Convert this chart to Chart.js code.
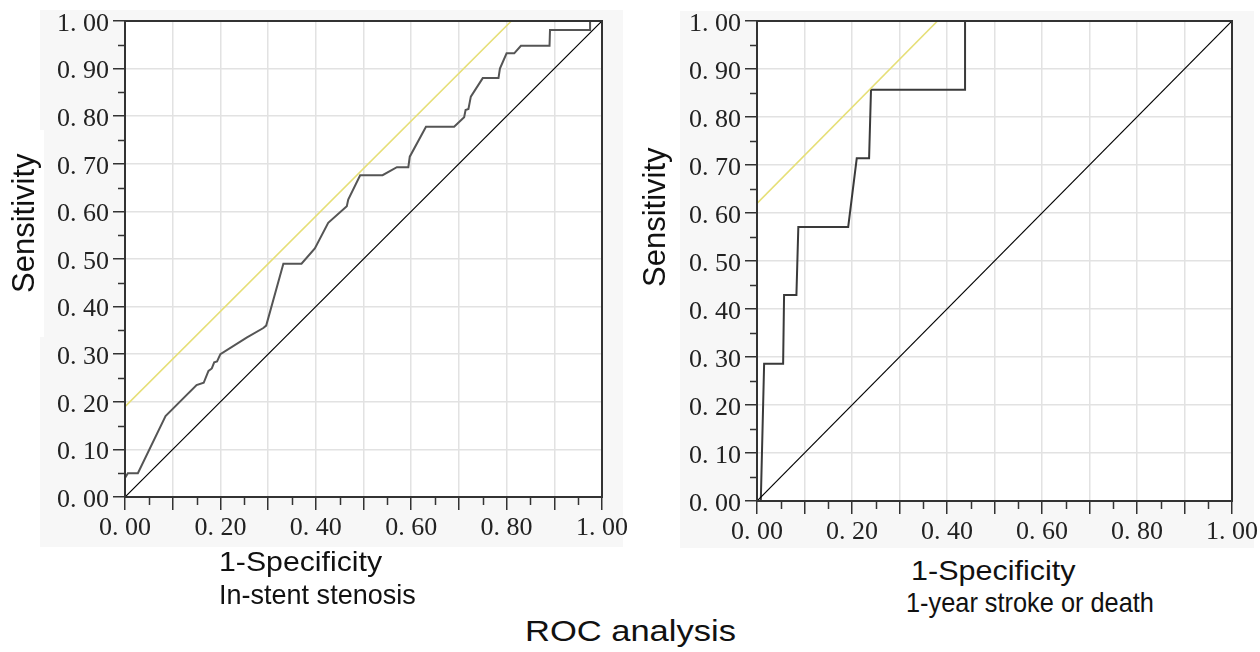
<!DOCTYPE html>
<html>
<head>
<meta charset="utf-8">
<script src="https://cdn.jsdelivr.net/npm/chart.js@4/dist/chart.umd.min.js"></script>
<style>
  body { margin: 0; width: 1260px; height: 652px; position: relative; overflow: hidden; background: #fff;
         font-family: "Liberation Sans", Arial, sans-serif; color: #111; }
  .panel { position: absolute; background: #f7f7f7; }
  canvas { position: absolute; }
  .lbl { position: absolute; white-space: nowrap; font-size: 28px; line-height: 28px; transform-origin: left top; }
  .ylab { position: absolute; white-space: nowrap; font-size: 31px; line-height: 31px;
          transform: rotate(-90deg); transform-origin: left top; }
</style>
</head>
<body>
<div class="panel" style="left:40px;top:10px;width:583px;height:537px"></div>
<div class="panel" style="left:680px;top:11px;width:574px;height:537px"></div>
<div style="position:absolute;left:40px;top:130px;width:4px;height:207px;background:#fff"></div>

<canvas id="leftChart" width="600" height="537" style="left:40px;top:10px"></canvas>
<canvas id="rightChart" width="580" height="537" style="left:680px;top:11px"></canvas>

<div class="ylab" style="left:8px;top:293px">Sensitivity</div>
<div class="ylab" style="left:639px;top:287px">Sensitivity</div>

<div class="lbl" style="left:219px;top:548px;transform:scaleX(1.08)">1-Specificity</div>
<div class="lbl" style="left:219px;top:581px;transform:scaleX(0.965)">In-stent stenosis</div>
<div class="lbl" style="left:911px;top:557px;transform:scaleX(1.09)">1-Specificity</div>
<div class="lbl" style="left:906px;top:589px;transform:scaleX(0.905)">1-year stroke or death</div>
<div class="lbl" style="left:525px;top:616px;font-size:30px;line-height:30px;transform:scaleX(1.15)">ROC analysis</div>

<script>
// ROC curve, in-stent stenosis (1-specificity / sensitivity)
const leftFpr = [0, 0.006, 0.027, 0.085, 0.15, 0.165, 0.175, 0.182, 0.187, 0.193, 0.2, 0.255, 0.29, 0.296,
  0.332, 0.37, 0.398, 0.426, 0.465, 0.468, 0.493, 0.54, 0.57, 0.594, 0.597, 0.631, 0.69, 0.711, 0.714,
  0.72, 0.725, 0.75, 0.783, 0.786, 0.8, 0.816, 0.83, 0.89, 0.891, 0.975, 0.975];
const leftTpr = [0.04, 0.05, 0.05, 0.17, 0.235, 0.24, 0.265, 0.27, 0.283, 0.285, 0.3, 0.335, 0.355, 0.36,
  0.49, 0.49, 0.522, 0.576, 0.611, 0.625, 0.676, 0.676, 0.693, 0.693, 0.715, 0.778, 0.778, 0.798, 0.813,
  0.815, 0.841, 0.88, 0.88, 0.9, 0.932, 0.932, 0.948, 0.948, 0.981, 0.981, 1.0];

// ROC curve, 1-year stroke or death
const rightFpr = [0.008, 0.015, 0.055, 0.057, 0.083, 0.087, 0.192, 0.21, 0.236, 0.24, 0.438, 0.438, 1.0];
const rightTpr = [0, 0.286, 0.286, 0.429, 0.429, 0.571, 0.571, 0.714, 0.714, 0.857, 0.857, 1.0, 1.0];

// chance line and the yellow tangent lines
const refX = [0, 1];
const refY = [0, 1];
const leftCutX = [0, 0.81];
const leftCutY = [0.19, 1.0];
const rightCutX = [0, 0.38];
const rightCutY = [0.62, 1.0];

// tick labels (index = tick number, step 0.1)
const yTickLabels = ['0. 00', '0. 10', '0. 20', '0. 30', '0. 40', '0. 50', '0. 60', '0. 70', '0. 80', '0. 90', '1. 00'];
const xTickLabels = ['0. 00', '', '0. 20', '', '0. 40', '', '0. 60', '', '0. 80', '', '1. 00'];
const minorTicks = [0.05, 0.15, 0.25, 0.35, 0.45, 0.55, 0.65, 0.75, 0.85, 0.95];

function pts(xs, ys) {
  return xs.map((x, i) => ({ x: x, y: ys[i] }));
}

// white plot area, dark frame and the short minor tick marks
const framePlugin = {
  id: 'frame',
  beforeDraw(chart) {
    const { ctx, chartArea: a } = chart;
    ctx.save();
    ctx.fillStyle = '#fff';
    ctx.fillRect(a.left, a.top, a.right - a.left, a.bottom - a.top);
    ctx.restore();
  },
  afterDraw(chart) {
    const { ctx, chartArea: a, scales } = chart;
    ctx.save();
    ctx.strokeStyle = '#333';
    ctx.lineWidth = 2;
    ctx.strokeRect(a.left, a.top, a.right - a.left, a.bottom - a.top);
    ctx.lineWidth = 1.5;
    ctx.beginPath();
    minorTicks.forEach(v => {
      const px = Math.round(scales.x.getPixelForValue(v)) + 0.5;
      ctx.moveTo(px, a.bottom);
      ctx.lineTo(px, a.bottom + 8);
      const py = Math.round(scales.y.getPixelForValue(v)) + 0.5;
      ctx.moveTo(a.left, py);
      ctx.lineTo(a.left - 7, py);
    });
    ctx.stroke();
    ctx.restore();
  }
};

function makeChart(id, curveX, curveY, cutX, cutY, curveColor, yWidth, xHeight, padTop, padRight) {
  const tickFont = { family: '"Liberation Serif", "Times New Roman", serif', size: 26 };
  const line = { showLine: true, pointRadius: 0, fill: false, tension: 0 };
  return new Chart(document.getElementById(id), {
    type: 'scatter',
    data: {
      datasets: [
        Object.assign({ data: pts(refX, refY), borderColor: '#000', borderWidth: 1.2 }, line),
        Object.assign({ data: pts(cutX, cutY), borderColor: '#e6df77', borderWidth: 1.6 }, line),
        Object.assign({ data: pts(curveX, curveY), borderColor: curveColor, borderWidth: 2 }, line)
      ]
    },
    options: {
      responsive: false,
      animation: false,
      devicePixelRatio: 1,
      layout: { padding: { top: padTop, right: padRight, left: 0, bottom: 0 } },
      plugins: { legend: { display: false }, tooltip: { enabled: false } },
      scales: {
        x: {
          type: 'linear', min: 0, max: 1,
          ticks: { stepSize: 0.1, autoSkip: false, maxRotation: 0, font: tickFont, color: '#222', padding: 3,
                   callback: (v, i) => xTickLabels[i] },
          grid: { color: '#e2e2e2', lineWidth: 1.5, tickLength: 13, tickColor: '#333', tickWidth: 1.5 },
          border: { display: true, color: '#333', width: 2 },
          afterFit(s) { s.height = xHeight; s.paddingLeft = 0; s.paddingRight = 0; }
        },
        y: {
          type: 'linear', min: 0, max: 1,
          ticks: { stepSize: 0.1, autoSkip: false, font: tickFont, color: '#222', padding: 4, labelOffset: 3,
                   callback: (v, i) => yTickLabels[i] },
          grid: { color: '#e2e2e2', lineWidth: 1.5, tickLength: 12, tickColor: '#333', tickWidth: 1.5 },
          border: { display: true, color: '#333', width: 2 },
          afterFit(s) { s.width = yWidth; s.paddingTop = 0; s.paddingBottom = 0; }
        }
      }
    },
    plugins: [framePlugin]
  });
}

makeChart('leftChart', leftFpr, leftTpr, leftCutX, leftCutY, '#555', 85, 50, 11, 38);
makeChart('rightChart', rightFpr, rightTpr, rightCutX, rightCutY, '#3a3a3a', 77, 47, 10, 28);
</script>
</body>
</html>
